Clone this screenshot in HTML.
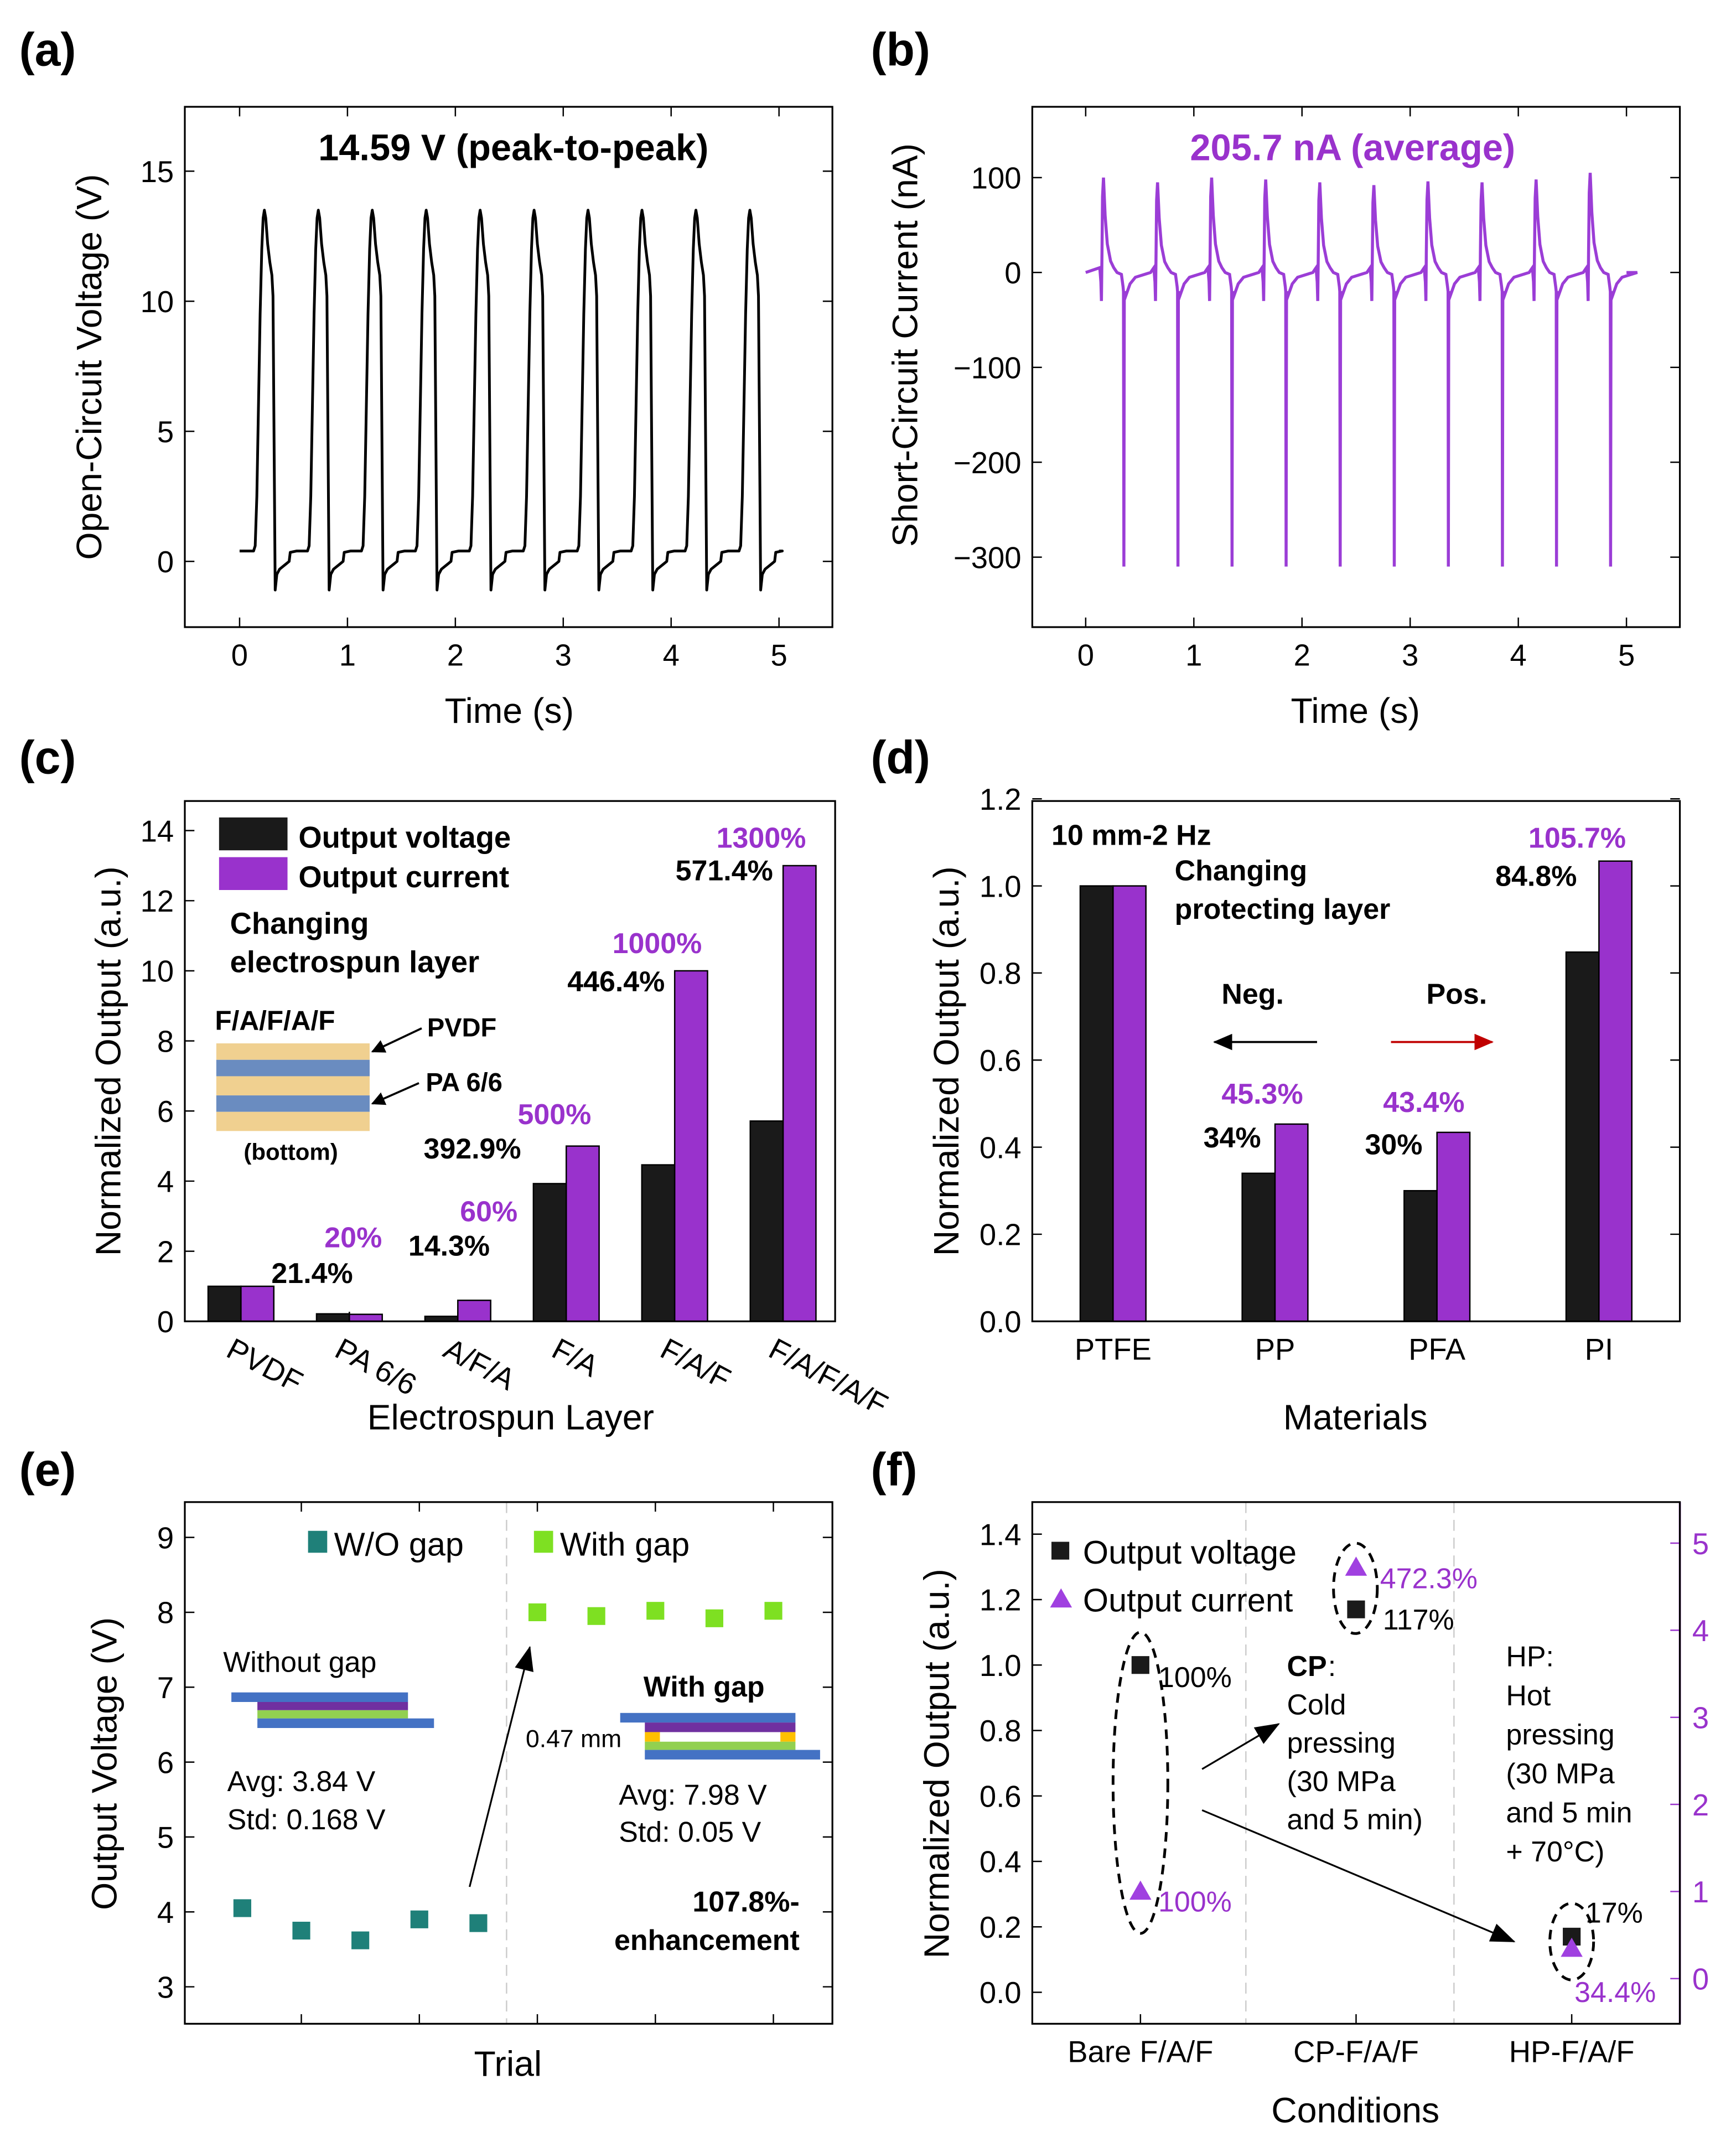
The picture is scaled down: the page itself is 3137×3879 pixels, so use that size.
<!DOCTYPE html>
<html><head><meta charset="utf-8"><style>
html,body{margin:0;padding:0;background:#fff}
svg{display:block}
text{font-family:"Liberation Sans",sans-serif}
</style></head><body>
<svg id="fig" width="3137" height="3879" viewBox="0 0 1268 1568" preserveAspectRatio="none" xmlns="http://www.w3.org/2000/svg">
<defs>
<marker id="ah" markerWidth="10" markerHeight="10" refX="9" refY="5" orient="auto" markerUnits="userSpaceOnUse"><path d="M0,0 L10,5 L0,10 z" fill="#000"/></marker>
<marker id="ahr" markerWidth="14" markerHeight="12" refX="13" refY="6" orient="auto" markerUnits="userSpaceOnUse"><path d="M0,0 L14,6 L0,12 z" fill="#c00000"/></marker>
<marker id="ahk" markerWidth="14" markerHeight="12" refX="13" refY="6" orient="auto" markerUnits="userSpaceOnUse"><path d="M0,0 L14,6 L0,12 z" fill="#000"/></marker>
<marker id="ahs" markerWidth="18" markerHeight="14" refX="17" refY="7" orient="auto" markerUnits="userSpaceOnUse"><path d="M0,0 L18,7 L0,14 z" fill="#000"/></marker>
</defs>
<g id="root"></g>
</svg>
<script>
// ---------- data ----------
const aPeakTimes=[0.23,0.73,1.23,1.73,2.23,2.73,3.23,3.73,4.23,4.73];
const aPeakValues=[13.5,13.5,13.5,13.5,13.5,13.5,13.5,13.5,13.5,13.5];
const aTicksX=[0,1,2,3,4,5];
const aTicksY=[0,5,10,15];
const bPeakTimes=[0.16,0.66,1.16,1.66,2.16,2.66,3.16,3.66,4.16,4.66];
const bPeakValues=[100,95,100,98,95,92,96,95,98,105];
const bSpikeValues=[-310,-310,-310,-310,-310,-310,-310,-310,-310,-310];
const bTicksY=[100,0,-100,-200,-300];
const cCategories=["PVDF","PA 6/6","A/F/A","F/A","F/A/F","F/A/F/A/F"];
const cVoltage=[1,0.214,0.143,3.929,4.464,5.714];
const cCurrent=[1,0.2,0.6,5,10,13];
const cVoltLabels=["21.4%","","14.3%","392.9%","446.4%","571.4%"];
const cCurrLabels=["","20%","60%","500%","1000%","1300%"];
const cTicksY=[0,2,4,6,8,10,12,14];
const dCategories=["PTFE","PP","PFA","PI"];
const dVoltage=[1,0.34,0.30,0.848];
const dCurrent=[1,0.453,0.434,1.057];
const dVoltLabels=["","34%","30%","84.8%"];
const dCurrLabels=["","45.3%","43.4%","105.7%"];
const dTicksY=[0,0.2,0.4,0.6,0.8,1.0,1.2];
const eWithout=[4.05,3.75,3.62,3.9,3.85];
const eWith=[8.0,7.95,8.02,7.92,8.02];
const eTicksY=[3,4,5,6,7,8,9];
const fCategories=["Bare F/A/F","CP-F/A/F","HP-F/A/F"];
const fVoltage=[1.0,1.17,0.17];
const fCurrent=[1.0,4.72,0.344];
const fTicksL=[0,0.2,0.4,0.6,0.8,1.0,1.2,1.4];
const fTicksR=[0,1,2,3,4,5];

const NS="http://www.w3.org/2000/svg";
const root=document.getElementById('root');
function el(tag,attrs,parent,txt){const e=document.createElementNS(NS,tag);for(const k in attrs)e.setAttribute(k,attrs[k]);if(txt!==undefined)e.textContent=txt;(parent||root).appendChild(e);return e;}
function txt(x,y,s,size,opts,parent){opts=opts||{};const e=el('text',{x:x,y:y,'font-size':size,'text-anchor':opts.anchor||'start',fill:opts.fill||'#000','font-weight':opts.bold?'bold':'normal'},parent,s);if(opts.rot)e.setAttribute('transform',`rotate(${opts.rot} ${x} ${y})`);return e;}
function box(x0,y0,x1,y1,name){const r=el('rect',{x:x0,y:y0,width:x1-x0,height:y1-y0,fill:'none',stroke:'#000','stroke-width':1.3});}
const PURP="#9932cc";

[["(a)",14,48],["(b)",636,48],["(c)",14,565],["(d)",636,565],["(e)",14,1085],["(f)",636,1085]].forEach(p=>{const t=txt(p[1],p[2],p[0],34,{bold:true});});

// ===== (a) =====
(function(){
const g=el('g',{});
const X=t=>175+t*78.8, Y=v=>410-v*19;
box(135,78,608,458,'panel-a-frame');
aTicksX.forEach(t=>{el('line',{x1:X(t),y1:458,x2:X(t),y2:451,stroke:'#000'},g);el('line',{x1:X(t),y1:78,x2:X(t),y2:85,stroke:'#000'},g);txt(X(t),486,String(t),22,{anchor:'middle'},g);});
aTicksY.forEach(v=>{el('line',{x1:135,y1:Y(v),x2:142,y2:Y(v),stroke:'#000'},g);el('line',{x1:608,y1:Y(v),x2:601,y2:Y(v),stroke:'#000'},g);txt(127,Y(v)+8,String(v),22,{anchor:'end'},g);});
txt(372,528,"Time (s)",26,{anchor:'middle'},g);
txt(74,268,"Open-Circuit Voltage (V)",26,{anchor:'middle',rot:-90},g);
txt(375,117,"14.59 V (peak-to-peak)",27,{anchor:'middle',bold:true},g);
let pts=[[0,0.4]];
aPeakTimes.forEach((t0,i)=>{const p=aPeakValues[i];
 pts.push([t0-0.1,0.4],[t0-0.085,0.6],[t0-0.07,2.5],[t0-0.055,6],[t0-0.04,9.5],[t0-0.025,12],[t0-0.012,13.2],[t0,p],[t0+0.012,13.2],[t0+0.03,12.2],[t0+0.05,11.5],[t0+0.07,11],[t0+0.08,10.2]);
 pts.push([t0+0.1,-1.1],[t0+0.115,-0.5],[t0+0.14,-0.3],[t0+0.2,-0.1],[t0+0.23,0.0],[t0+0.24,0.35],[t0+0.3,0.4]);});
pts.push([5,0.4]);
const pl=el('polyline',{points:pts.map(p=>X(p[0]).toFixed(1)+','+Y(p[1]).toFixed(1)).join(' '),fill:'none',stroke:'#000','stroke-width':2,'stroke-linejoin':'round'},g);

})();

// ===== (b) =====
(function(){
const g=el('g',{});
const X=t=>793+t*79, Y=v=>199-v*0.693;
box(754,78,1227,458,'panel-b-frame');
aTicksX.forEach(t=>{el('line',{x1:X(t),y1:458,x2:X(t),y2:451,stroke:'#000'},g);el('line',{x1:X(t),y1:78,x2:X(t),y2:85,stroke:'#000'},g);txt(X(t),486,String(t),22,{anchor:'middle'},g);});
bTicksY.forEach(v=>{el('line',{x1:754,y1:Y(v),x2:761,y2:Y(v),stroke:'#000'},g);el('line',{x1:1227,y1:Y(v),x2:1220,y2:Y(v),stroke:'#000'},g);txt(746,Y(v)+8,String(v).replace('-','\u2212'),22,{anchor:'end'},g);});
txt(990,528,"Time (s)",26,{anchor:'middle'},g);
txt(670,252,"Short-Circuit Current (nA)",26,{anchor:'middle',rot:-90},g);
txt(988,117,"205.7 nA (average)",27,{anchor:'middle',bold:true,fill:PURP},g);
let pts=[[0,0]];
bPeakTimes.forEach((t0,i)=>{const p=bPeakValues[i],s=bSpikeValues[i];
 pts.push([t0-0.03,5],[t0-0.02,-10],[t0-0.015,-30],[t0-0.01,20],[t0-0.004,p*0.8],[t0+0.004,p],[t0+0.02,p*0.6],[t0+0.04,p*0.3],[t0+0.07,p*0.12],[t0+0.1,5],[t0+0.13,0]);
 pts.push([t0+0.17,-2],[t0+0.185,-15],[t0+0.19,-20],[t0+0.193,s],[t0+0.197,-20],[t0+0.21,-25],[t0+0.25,-12],[t0+0.3,-5],[t0+0.44,0]);});
pts.push([5,0]);
const pl=el('polyline',{points:pts.map(p=>X(p[0]).toFixed(1)+','+Y(p[1]).toFixed(1)).join(' '),fill:'none',stroke:'#9b3dd6','stroke-width':2.2},g);

})();

// ===== (c) =====
(function(){
const g=el('g',{});
const cx=i=>176+i*79.2, Y=v=>965-v*25.6;
box(135,585,610,965,'panel-c-frame');
cTicksY.forEach(v=>{el('line',{x1:135,y1:Y(v),x2:142,y2:Y(v),stroke:'#000'},g);txt(127,Y(v)+8,String(v),22,{anchor:'end'},g);});
cCategories.forEach((c,i)=>{el('line',{x1:cx(i),y1:965,x2:cx(i),y2:958,stroke:'#000'},g);
 txt(cx(i)-12,990,c,22,{rot:28},g);});
cCategories.forEach((c,i)=>{
 const b1=el('rect',{x:cx(i)-24,y:Y(cVoltage[i]),width:24,height:965-Y(cVoltage[i]),fill:'#1a1a1a',stroke:'#000'},g);
 
 const b2=el('rect',{x:cx(i),y:Y(cCurrent[i]),width:24,height:965-Y(cCurrent[i]),fill:'#9932cc',stroke:'#000'},g);
 
});
[[0,228,937],[2,328,917],[3,345,846],[4,450,724],[5,529,643]].forEach(a=>txt(a[1],a[2],cVoltLabels[a[0]],21,{anchor:'middle',bold:true},g));
[[1,258,911],[2,357,892],[3,405,821],[4,480,696],[5,556,619]].forEach(a=>txt(a[1],a[2],cCurrLabels[a[0]],21,{anchor:'middle',bold:true,fill:PURP},g));
txt(373,1044,"Electrospun Layer",26,{anchor:'middle'},g);
txt(88,775,"Normalized Output (a.u.)",26,{anchor:'middle',rot:-90},g);
const l1=el('rect',{x:160,y:597,width:50,height:24,fill:'#1a1a1a'},g);
const l2=el('rect',{x:160,y:626,width:50,height:24,fill:'#9932cc'},g);
txt(218,619,"Output voltage",22,{bold:true},g);txt(218,648,"Output current",22,{bold:true},g);
txt(168,682,"Changing",22,{bold:true},g);txt(168,710,"electrospun layer",22,{bold:true},g);
txt(157,752,"F/A/F/A/F",20,{bold:true},g);
[[762,'#f0d090'],[774,'#6a8cc0'],[786,'#f0d090'],[800,'#6a8cc0'],[812,'#f0d090']].forEach((s,i,a)=>{el('rect',{x:158,y:s[0],width:112,height:(i<4?a[i+1][0]:826)-s[0],fill:s[1]},g);});
el('line',{x1:308,y1:751,x2:272,y2:768,stroke:'#000','stroke-width':1.5,'marker-end':'url(#ah)'},g);
el('line',{x1:306,y1:791,x2:272,y2:806,stroke:'#000','stroke-width':1.5,'marker-end':'url(#ah)'},g);
txt(312,757,"PVDF",19,{bold:true},g);txt(311,797,"PA 6/6",19,{bold:true},g);
txt(178,847,"(bottom)",17,{bold:true},g);
})();

// ===== (d) =====
(function(){
const g=el('g',{});
const cx=i=>813+i*118.3, Y=v=>965-v*318;
box(754,585,1227,965,'panel-d-frame');
dTicksY.forEach(v=>{el('line',{x1:754,y1:Y(v),x2:761,y2:Y(v),stroke:'#000'},g);el('line',{x1:1227,y1:Y(v),x2:1220,y2:Y(v),stroke:'#000'},g);txt(746,Y(v)+8,v.toFixed(1),22,{anchor:'end'},g);});
dCategories.forEach((c,i)=>{el('line',{x1:cx(i),y1:965,x2:cx(i),y2:958,stroke:'#000'},g);txt(cx(i),993,c,22,{anchor:'middle'},g);
 const b1=el('rect',{x:cx(i)-24,y:Y(dVoltage[i]),width:24,height:965-Y(dVoltage[i]),fill:'#1a1a1a',stroke:'#000'},g);
 
 const b2=el('rect',{x:cx(i),y:Y(dCurrent[i]),width:24,height:965-Y(dCurrent[i]),fill:'#9932cc',stroke:'#000'},g);
 
});
[[1,900,838],[2,1018,843],[3,1122,647]].forEach(a=>txt(a[1],a[2],dVoltLabels[a[0]],21,{anchor:'middle',bold:true},g));
[[1,922,806],[2,1040,812],[3,1152,619]].forEach(a=>txt(a[1],a[2],dCurrLabels[a[0]],21,{anchor:'middle',bold:true,fill:PURP},g));
txt(990,1044,"Materials",26,{anchor:'middle'},g);
txt(700,775,"Normalized Output (a.u.)",26,{anchor:'middle',rot:-90},g);
txt(768,617,"10 mm-2 Hz",21,{bold:true},g);
txt(858,643,"Changing",21,{bold:true},g);txt(858,671,"protecting layer",21,{bold:true},g);
txt(915,733,"Neg.",21,{anchor:'middle',bold:true},g);txt(1064,733,"Pos.",21,{anchor:'middle',bold:true},g);
el('line',{x1:962,y1:761,x2:887,y2:761,stroke:'#000','stroke-width':1.5,'marker-end':'url(#ahk)'},g);
el('line',{x1:1016,y1:761,x2:1090,y2:761,stroke:'#c00000','stroke-width':1.5,'marker-end':'url(#ahr)'},g);
})();

// ===== (e) =====
(function(){
const g=el('g',{});
const X=i=>177+i*43.1, Y=v=>1451-(v-3)*54.7;
box(135,1097,608,1478,'panel-e-frame');
el('line',{x1:370,y1:1097,x2:370,y2:1478,stroke:'#ccc','stroke-dasharray':'8,5'},g);
for(let i=0;i<10;i++){if(i%2==1){el('line',{x1:X(i),y1:1478,x2:X(i),y2:1471,stroke:'#000'},g);el('line',{x1:X(i),y1:1097,x2:X(i),y2:1104,stroke:'#000'},g);}}
eTicksY.forEach(v=>{el('line',{x1:135,y1:Y(v),x2:142,y2:Y(v),stroke:'#000'},g);el('line',{x1:608,y1:Y(v),x2:601,y2:Y(v),stroke:'#000'},g);txt(127,Y(v)+8,String(v),22,{anchor:'end'},g);});
eWithout.forEach((v,i)=>{const r=el('rect',{x:X(i)-6.5,y:Y(v)-6.5,width:13,height:13,fill:'#1f8079'},g);});
eWith.forEach((v,i)=>{const r=el('rect',{x:X(i+5)-6.5,y:Y(v)-6.5,width:13,height:13,fill:'#7ee022'},g);});
txt(371,1516,"Trial",26,{anchor:'middle'},g);
txt(85,1288,"Output Voltage (V)",26,{anchor:'middle',rot:-90},g);
el('rect',{x:225,y:1118,width:14,height:16,fill:'#1f8079'},g);txt(244,1136,"W/O gap",24,{},g);
el('rect',{x:390,y:1118,width:14,height:16,fill:'#7ee022'},g);txt(409,1136,"With gap",24,{},g);
txt(163,1221,"Without gap",21,{},g);
el('rect',{x:169,y:1236,width:129,height:7,fill:'#4472c4'},g);
el('rect',{x:188,y:1243,width:110,height:6,fill:'#7030a0'},g);
el('rect',{x:188,y:1249,width:110,height:6,fill:'#92d050'},g);
el('rect',{x:188,y:1255,width:129,height:7,fill:'#4472c4'},g);
txt(166,1308,"Avg: 3.84 V",21,{},g);txt(166,1336,"Std: 0.168 V",21,{},g);
txt(470,1239,"With gap",21,{bold:true},g);
txt(384,1276,"0.47 mm",18,{},g);
el('rect',{x:453,y:1251,width:128,height:7,fill:'#4472c4'},g);
el('rect',{x:471,y:1258,width:110,height:7,fill:'#7030a0'},g);
el('rect',{x:471,y:1265,width:11,height:7,fill:'#ffc000'},g);
el('rect',{x:570,y:1265,width:11,height:7,fill:'#ffc000'},g);
el('rect',{x:471,y:1272,width:110,height:6,fill:'#92d050'},g);
el('rect',{x:471,y:1278,width:128,height:7,fill:'#4472c4'},g);
txt(452,1318,"Avg: 7.98 V",21,{},g);txt(452,1345,"Std: 0.05 V",21,{},g);
txt(584,1396,"107.8%-",21,{anchor:'end',bold:true},g);txt(584,1424,"enhancement",21,{anchor:'end',bold:true},g);
el('line',{x1:343,y1:1378,x2:387,y2:1203,stroke:'#000','stroke-width':1.3,'marker-end':'url(#ahs)'},g);
})();

// ===== (f) =====
(function(){
const g=el('g',{});
const cx=i=>833+i*157.5, YL=v=>1455-v*239, YR=v=>1445-v*63.6;
box(754,1097,1227,1478,'panel-f-frame');
el('line',{x1:1227,y1:1097,x2:1227,y2:1478,stroke:PURP,'stroke-width':1.5},g);
[910,1062].forEach(x=>el('line',{x1:x,y1:1097,x2:x,y2:1478,stroke:'#ccc','stroke-dasharray':'8,5'},g));
fTicksL.forEach(v=>{el('line',{x1:754,y1:YL(v),x2:761,y2:YL(v),stroke:'#000'},g);txt(746,YL(v)+8,v.toFixed(1),22,{anchor:'end'},g);});
fTicksR.forEach(v=>{el('line',{x1:1227,y1:YR(v),x2:1220,y2:YR(v),stroke:PURP},g);txt(1236,YR(v)+8,String(v),22,{fill:PURP},g);});
fCategories.forEach((c,i)=>{el('line',{x1:cx(i),y1:1478,x2:cx(i),y2:1471,stroke:'#000'},g);txt(cx(i),1506,c,22,{anchor:'middle'},g);
 const r=el('rect',{x:cx(i)-6.5,y:YL(fVoltage[i])-6.5,width:13,height:13,fill:'#1a1a1a'},g);
 const y=YR(fCurrent[i]);const p=el('path',{d:`M${cx(i)},${y-8} L${cx(i)+8},${y+6} L${cx(i)-8},${y+6} Z`,fill:'#a040e0'},g);
});
txt(990,1550,"Conditions",26,{anchor:'middle'},g);
txt(693,1288,"Normalized Output (a.u.)",26,{anchor:'middle',rot:-90},g);
el('rect',{x:768,y:1126,width:13,height:13,fill:'#1a1a1a'},g);txt(791,1142,"Output voltage",24,{},g);
el('path',{d:'M775,1160 L783,1174 L767,1174 Z',fill:'#a040e0'},g);txt(791,1177,"Output current",24,{},g);
[[833,1302,20,110],[990,1160,16,33],[1148,1418,16,28]].forEach(e=>el('ellipse',{cx:e[0],cy:e[1],rx:e[2],ry:e[3],fill:'none',stroke:'#000','stroke-width':2,'stroke-dasharray':'7,5'},g));
txt(846,1232,"100%",21,{},g);txt(846,1396,"100%",21,{fill:PURP},g);
txt(1008,1160,"472.3%",21,{fill:PURP},g);txt(1010,1190,"117%",21,{},g);
txt(1158,1404,"17%",21,{},g);txt(1150,1462,"34.4%",21,{fill:PURP},g);
txt(940,1224,"CP",21,{bold:true},g);txt(970,1224,":",21,{},g);
["Cold","pressing","(30 MPa","and 5 min)"].forEach((s,i)=>txt(940,1252+i*28,s,21,{},g));
["HP:","Hot","pressing","(30 MPa","and 5 min","+ 70\u00b0C)"].forEach((s,i)=>txt(1100,1217+i*28.5,s,21,{},g));
el('line',{x1:878,y1:1292,x2:934,y2:1259,stroke:'#000','stroke-width':1.3,'marker-end':'url(#ahs)'},g);
el('line',{x1:878,y1:1322,x2:1106,y2:1418,stroke:'#000','stroke-width':1.3,'marker-end':'url(#ahs)'},g);
})();
</script>
</body></html>
